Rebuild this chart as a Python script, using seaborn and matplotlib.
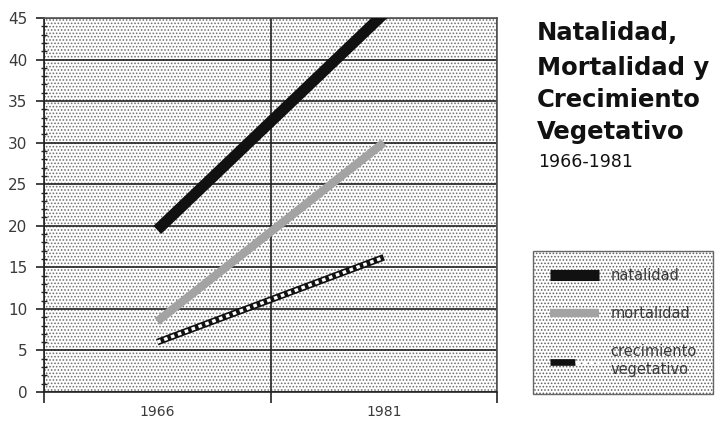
import matplotlib
matplotlib.use("Agg")
import matplotlib.pyplot as plt
import seaborn as sns
import pandas as pd
from matplotlib.lines import Line2D
from matplotlib.patches import Rectangle
from matplotlib.legend_handler import HandlerTuple
from matplotlib.ticker import MultipleLocator, FixedLocator, NullFormatter

years = ["1966", "1981"]
natalidad = [19.5, 45.5]
mortalidad = [8.5, 30.0]
crecimiento = [6.0, 16.2]
series_names = ["natalidad", "mortalidad", "crecimiento\nvegetativo"]
title_lines = ["Natalidad,", "Mortalidad y", "Crecimiento", "Vegetativo"]
subtitle = "1966-1981"

sns.set_theme(style="white")
plt.rcParams["font.family"] = ["DejaVu Sans"]
plt.rcParams["hatch.linewidth"] = 0.75

fig = plt.figure(figsize=(7.22, 4.23), dpi=100)
ax = fig.add_axes([44 / 722, 31 / 423, (497 - 44) / 722, (392 - 18) / 423])
ax.patch.set_facecolor("white")
bg = Rectangle((0, 0), 1, 1, transform=ax.transAxes, facecolor="white",
               edgecolor="#707070", linewidth=0, hatch=".....", zorder=0)
ax.add_patch(bg)

df_n = pd.DataFrame({"year": years, "value": natalidad})
df_m = pd.DataFrame({"year": years, "value": mortalidad})
df_c = pd.DataFrame({"year": years, "value": crecimiento})

sns.lineplot(data=df_n, x="year", y="value", ax=ax, color="#111111", linewidth=8,
             solid_capstyle="butt", legend=False, zorder=5)
sns.lineplot(data=df_m, x="year", y="value", ax=ax, color="#a3a3a3", linewidth=6,
             solid_capstyle="butt", legend=False, zorder=5)
sns.lineplot(data=df_c, x="year", y="value", ax=ax, color="#111111", linewidth=4.8,
             solid_capstyle="butt", legend=False, zorder=5)
sns.lineplot(data=df_c, x="year", y="value", ax=ax, color="white", linewidth=2.4,
             dashes=[(1.1, 1.1)], style=[0, 0], legend=False, zorder=6)

ax.set_xlim(-0.5, 1.5)
ax.set_ylim(0, 45)
ax.set_xlabel("")
ax.set_ylabel("")

ax.xaxis.set_major_locator(FixedLocator([-0.5, 0.5, 1.5]))
ax.xaxis.set_major_formatter(NullFormatter())
ax.xaxis.set_minor_locator(FixedLocator([0, 1]))
ax.set_xticklabels(years, minor=True)
ax.tick_params(axis="x", which="major", direction="out", length=8, width=1.2, color="#222222", bottom=True)
ax.tick_params(axis="x", which="minor", length=0, labelsize=10, labelcolor="#3a3a3a", pad=9)

ax.yaxis.set_major_locator(MultipleLocator(5))
ax.yaxis.set_minor_locator(MultipleLocator(1))
ax.tick_params(axis="y", which="major", direction="out", length=6, width=1.2, color="#222222",
               left=True, labelsize=11, labelcolor="#3a3a3a", pad=6)
ax.tick_params(axis="y", which="minor", direction="inout", length=5, width=1.0, color="#222222", left=True)

ax.grid(True, which="major", axis="both", color="#222222", linewidth=1.2)
ax.set_axisbelow(True)
for s in ax.spines.values():
    s.set_visible(True)
    s.set_color("#222222")
    s.set_linewidth(1.2)
ax.spines["right"].set_color("#555555")
ax.spines["top"].set_color("#555555")

title_y = [33, 68, 100, 132]
for line, yy in zip(title_lines, title_y):
    fig.text(537 / 722, 1 - yy / 423, line, fontsize=17.5, fontweight="bold",
             va="center", ha="left", color="#111111")
fig.text(538 / 722, 1 - 162 / 423, subtitle, fontsize=12.5, va="center", ha="left",
         color="#111111")

h_n = Line2D([], [], color="#111111", linewidth=8, solid_capstyle="butt")
h_m = Line2D([], [], color="#a3a3a3", linewidth=6, solid_capstyle="butt")
h_c = (Line2D([], [], color="#111111", linewidth=4.8, solid_capstyle="butt"),
       Line2D([], [], color="white", linewidth=2.4, dashes=(1.1, 1.1)))
leg = fig.legend([h_n, h_m, h_c], series_names,
                 handler_map={tuple: HandlerTuple(ndivide=None, pad=0)},
                 loc="upper left", bbox_to_anchor=(533 / 722, 1 - 251 / 423),
                 fontsize=10.5, frameon=True, fancybox=False, borderpad=1.15,
                 labelspacing=1.6, handlelength=3.4, handletextpad=0.75,
                 borderaxespad=0)
fr = leg.get_frame()
fr.set_edgecolor("#444444")
fr.set_linewidth(1.0)
fr.set_facecolor("white")
fr.set_hatch(".....")
for t in leg.get_texts():
    t.set_color("#3a3a3a")

fig.savefig("out.png", dpi=100)
